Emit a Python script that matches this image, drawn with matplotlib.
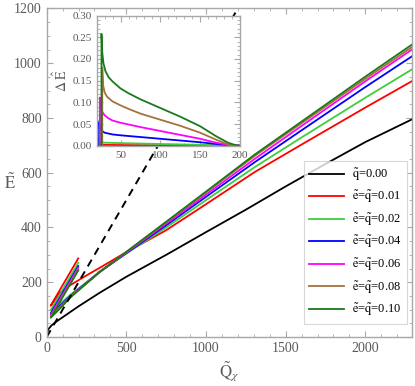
import numpy as np
import matplotlib
matplotlib.use("Agg")
import matplotlib.pyplot as plt
from matplotlib.ticker import MultipleLocator

plt.rcParams['font.family'] = ['Liberation Serif', 'DejaVu Serif']
plt.rcParams['mathtext.fontset'] = 'stix'

# main panel: energy vs charge
q0_Q = [0, 3, 10, 30, 60, 100, 200, 334, 500, 750, 1000, 1250, 1500, 1750, 2000, 2300]
q0_E = [0, 15, 28, 42, 56, 72, 112, 162, 220, 300, 383, 465, 550, 632, 712, 797]

dash_Q = [0, 1300]
dash_E = [0, 1300]

branch_Q = [198, 25, 80, 150, 250, 334, 500, 750, 1000, 1307, 1600, 2000, 2300]
E_001 = [287, 114, 160, 190, 225, 253, 310, 390, 485, 603, 703, 838, 937]
E_002 = [271, 98, 120, 155, 200, 240, 305, 400, 500, 621, 729, 874, 980]
E_004 = [259, 86, 112, 150, 198, 238, 306, 408, 512, 639, 755, 913, 1028]
E_006 = [253, 80, 108, 148, 197, 238, 308, 414, 520, 651, 771, 934, 1053]
E_008 = [247, 74, 104, 146, 196, 238, 310, 419, 528, 662, 781, 943, 1062]
E_010 = [243, 70, 102, 145, 196, 238, 311, 421, 531, 667, 787, 951, 1071]

# inset: energy difference
dQ_001 = [21, 21, 22, 25, 50, 100, 200]
dE_001 = [0, 0.005, 0.003, 0.002, 0.0015, 0.001, 0]
dQ_002 = [22, 22, 23, 25, 30, 50, 100, 150, 200]
dE_002 = [0, 0.016, 0.011, 0.008, 0.007, 0.006, 0.004, 0.002, 0]
dQ_004 = [23, 23, 24, 26, 30, 40, 50, 75, 100, 125, 150, 175, 190, 200]
dE_004 = [0, 0.055, 0.042, 0.035, 0.03, 0.026, 0.024, 0.02, 0.016, 0.012, 0.008, 0.003, 0.001, 0]
dQ_006 = [24, 24, 25, 27, 30, 35, 40, 50, 75, 100, 125, 150, 170, 185, 200]
dE_006 = [0, 0.111, 0.09, 0.078, 0.07, 0.063, 0.058, 0.053, 0.043, 0.034, 0.025, 0.016, 0.007, 0.002, 0]
dQ_008 = [27, 27, 28, 30, 33, 40, 50, 60, 75, 100, 125, 150, 170, 185, 195, 200]
dE_008 = [0, 0.18, 0.14, 0.123, 0.113, 0.102, 0.093, 0.085, 0.074, 0.06, 0.046, 0.03, 0.014, 0.003, 0.0005, 0]
dQ_010 = [26, 26, 27, 28.5, 31, 35, 40, 50, 60, 75, 100, 125, 150, 170, 185, 195, 200]
dE_010 = [0, 0.258, 0.215, 0.19, 0.172, 0.158, 0.148, 0.132, 0.121, 0.107, 0.087, 0.067, 0.045, 0.022, 0.007, 0.001, 0]

labels = [r'$\tilde{\mathrm{q}}$=0.00',
          r'$\tilde{\mathrm{e}}$=$\tilde{\mathrm{q}}$=0.01',
          r'$\tilde{\mathrm{e}}$=$\tilde{\mathrm{q}}$=0.02',
          r'$\tilde{\mathrm{e}}$=$\tilde{\mathrm{q}}$=0.04',
          r'$\tilde{\mathrm{e}}$=$\tilde{\mathrm{q}}$=0.06',
          r'$\tilde{\mathrm{e}}$=$\tilde{\mathrm{q}}$=0.08',
          r'$\tilde{\mathrm{e}}$=$\tilde{\mathrm{q}}$=0.10']
colors = ['black', '#ff0000', '#3fcc3f', '#0000ff', '#ff00ff', '#a5713c', '#1a7a1a']

main_E = [E_001, E_002, E_004, E_006, E_008, E_010]
inset_Q = [dQ_001, dQ_002, dQ_004, dQ_006, dQ_008, dQ_010]
inset_E = [dE_001, dE_002, dE_004, dE_006, dE_008, dE_010]

frame_col = '#a8a8a8'
text_col = '#5a5a5a'


def style_frame(ax, size):
    for s in ax.spines.values():
        s.set_color(frame_col)
        s.set_linewidth(1.0)
    ax.tick_params(which='both', direction='in', top=True, right=True,
                   color=frame_col, labelcolor=text_col, labelsize=size)
    ax.tick_params(which='major', length=4, width=0.8)
    ax.tick_params(which='minor', length=2, width=0.6)


fig = plt.figure(figsize=(4.15, 3.86), dpi=100)
ax = fig.add_axes([0.1125, 0.127, 0.881, 0.851])

lw = 1.3
ax.plot(q0_Q, q0_E, color=colors[0], lw=lw, label=labels[0])
for E, c, lab in zip(main_E, colors[1:], labels[1:]):
    ax.plot(branch_Q, E, color=c, lw=lw, label=lab)
ax.plot(dash_Q, dash_E, color='black', lw=1.4, ls=(0, (4, 3)))

ax.set_xlim(0, 2295)
ax.set_ylim(0, 1200)
ax.xaxis.set_major_locator(MultipleLocator(500))
ax.xaxis.set_minor_locator(MultipleLocator(100))
ax.yaxis.set_major_locator(MultipleLocator(200))
ax.yaxis.set_minor_locator(MultipleLocator(50))
style_frame(ax, 10)
ax.set_xlabel(r'$\tilde{\mathrm{Q}}_{\chi}$', fontsize=12, color=text_col, labelpad=3)
ax.set_ylabel(r'$\tilde{\mathrm{E}}$', fontsize=12, color=text_col,
              rotation=0, ha='center', va='center')
ax.yaxis.set_label_coords(-0.1, 0.47)

leg = ax.legend(loc='upper right', bbox_to_anchor=(407 / 415, 1 - 161 / 386),
                bbox_transform=fig.transFigure, fontsize=9, frameon=True,
                fancybox=False, handlelength=2.8, handletextpad=0.6,
                labelspacing=0.5, borderpad=0.45, borderaxespad=0)
leg.get_frame().set_edgecolor('#cfcfcf')
leg.get_frame().set_linewidth(0.8)

ins = fig.add_axes([0.233, 0.6225, 0.345, 0.337])
for Q, E, c in zip(inset_Q, inset_E, colors[1:]):
    ins.plot(Q, E, color=c, lw=1.3)
ins.set_xlim(20, 200)
ins.set_ylim(0, 0.30)
ins.xaxis.set_major_locator(MultipleLocator(50))
ins.xaxis.set_minor_locator(MultipleLocator(10))
ins.yaxis.set_major_locator(MultipleLocator(0.05))
ins.yaxis.set_minor_locator(MultipleLocator(0.01))
ins.yaxis.set_major_formatter(plt.FormatStrFormatter('%.2f'))
style_frame(ins, 8)
ins.set_ylabel(r'$\Delta\;\hat{\mathrm{E}}$', fontsize=10, color=text_col, labelpad=2)

plt.savefig('out.png', dpi=100)
